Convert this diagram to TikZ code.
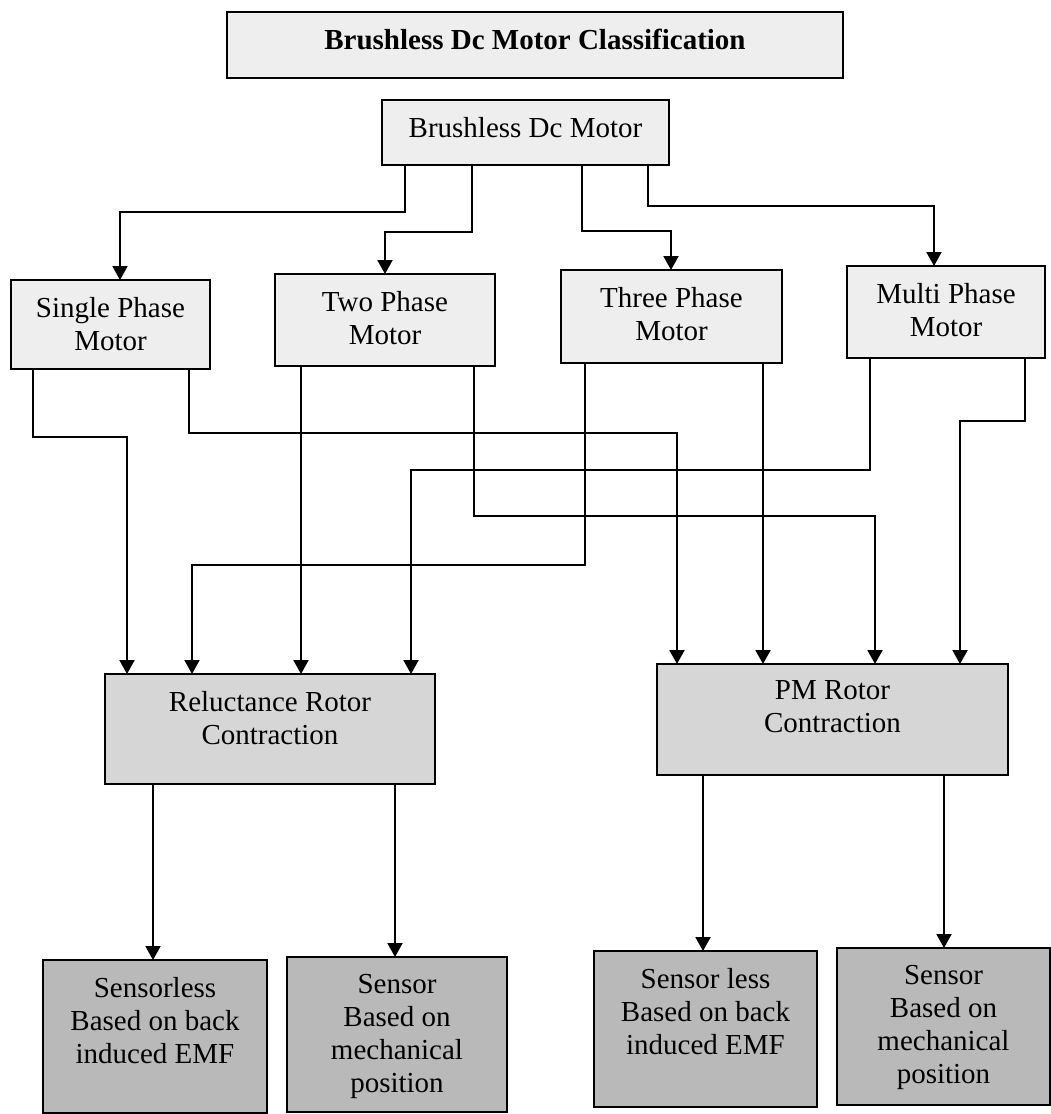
\documentclass[tikz,border=0pt]{standalone}
\usepackage{fontspec}
\setmainfont{Liberation Serif}
\usetikzlibrary{arrows.meta}

\definecolor{paleFill}{HTML}{EEEEEE}
\definecolor{midFill}{HTML}{D6D6D6}
\definecolor{darkFill}{HTML}{B9B9B9}

% Box from its top-left (#2,#3) to bottom-right (#4,#5) corner, text set from the top.
\newcommand{\mkpanel}[7]{%
  \pgfmathsetmacro{\panelw}{#4-#2}%
  \pgfmathsetmacro{\panelh}{#5-#3}%
  \node[panel, fill=#6, anchor=north west] (#1) at (#2,#3)
    {\begin{minipage}[c][\panelh pt][t]{\panelw pt}\centering\vspace*{17pt}#7\end{minipage}};%
}

\tikzset{
  panel/.style={draw=black, line width=1.8pt, inner sep=0pt, outer sep=0pt, rectangle},
  link/.style={draw=black, line width=2pt, -{Triangle[length=14pt,width=15pt]}}
}

\begin{document}
\begin{tikzpicture}[x=1pt, y=-1pt, font=\fontsize{29}{33}\selectfont]
  \useasboundingbox[fill=white] (0,0) rectangle (1051,1114);

  % heading and root
  \mkpanel{title}{227}{12}{843}{78}{paleFill}{\bfseries Brushless Dc Motor Classification}
  \mkpanel{bdc}{382}{100}{669}{165}{paleFill}{Brushless Dc Motor}

  % phase types
  \mkpanel{single}{11}{280}{210}{369}{paleFill}{Single Phase\\Motor}
  \mkpanel{two}{275}{274}{495}{366}{paleFill}{Two Phase\\Motor}
  \mkpanel{three}{561}{270}{782}{363}{paleFill}{Three Phase\\Motor}
  \mkpanel{multi}{847}{266}{1045}{358}{paleFill}{Multi Phase\\Motor}

  % rotor constructions
  \mkpanel{rel}{105}{674}{435}{784}{midFill}{Reluctance Rotor\\Contraction}
  \mkpanel{pm}{657}{664}{1008}{775}{midFill}{PM Rotor\\Contraction}

  % position detection
  \mkpanel{relA}{43}{960}{267}{1113}{darkFill}{Sensorless\\Based on back\\induced EMF}
  \mkpanel{relB}{287}{957}{507}{1112}{darkFill}{Sensor\\Based on\\mechanical\\position}
  \mkpanel{pmA}{594}{951}{817}{1107}{darkFill}{Sensor less\\Based on back\\induced EMF}
  \mkpanel{pmB}{837}{948}{1050}{1105}{darkFill}{Sensor\\Based on\\mechanical\\position}

  % root to phase types
  \draw[link] ([xshift=23pt]bdc.south west) -- ++(0,47) -| ([xshift=109pt]single.north west);
  \draw[link] ([xshift=90pt]bdc.south west) -- ++(0,67) -| ([xshift=110pt]two.north west);
  \draw[link] ([xshift=200pt]bdc.south west) -- ++(0,66) -| ([xshift=110pt]three.north west);
  \draw[link] ([xshift=266pt]bdc.south west) -- ++(0,41) -| ([xshift=87pt]multi.north west);

  % phase types to rotor constructions
  \draw[link] ([xshift=22pt]single.south west) -- ++(0,68) -| ([xshift=22pt]rel.north west);
  \draw[link] ([xshift=178pt]single.south west) -- ++(0,64) -| ([xshift=20pt]pm.north west);
  \draw[link] ([xshift=26pt]two.south west) -- ([xshift=196pt]rel.north west);
  \draw[link] ([xshift=199pt]two.south west) -- ++(0,150) -| ([xshift=218pt]pm.north west);
  \draw[link] ([xshift=24pt]three.south west) -- ++(0,202) -| ([xshift=87pt]rel.north west);
  \draw[link] ([xshift=202pt]three.south west) -- ([xshift=106pt]pm.north west);
  \draw[link] ([xshift=23pt]multi.south west) -- ++(0,112) -| ([xshift=306pt]rel.north west);
  \draw[link] ([xshift=178pt]multi.south west) -- ++(0,63) -| ([xshift=303pt]pm.north west);

  % rotor constructions to detection methods
  \draw[link] ([xshift=48pt]rel.south west) -- ([xshift=110pt]relA.north west);
  \draw[link] ([xshift=290pt]rel.south west) -- ([xshift=108pt]relB.north west);
  \draw[link] ([xshift=46pt]pm.south west) -- ([xshift=109pt]pmA.north west);
  \draw[link] ([xshift=287pt]pm.south west) -- ([xshift=107pt]pmB.north west);
\end{tikzpicture}
\end{document}
